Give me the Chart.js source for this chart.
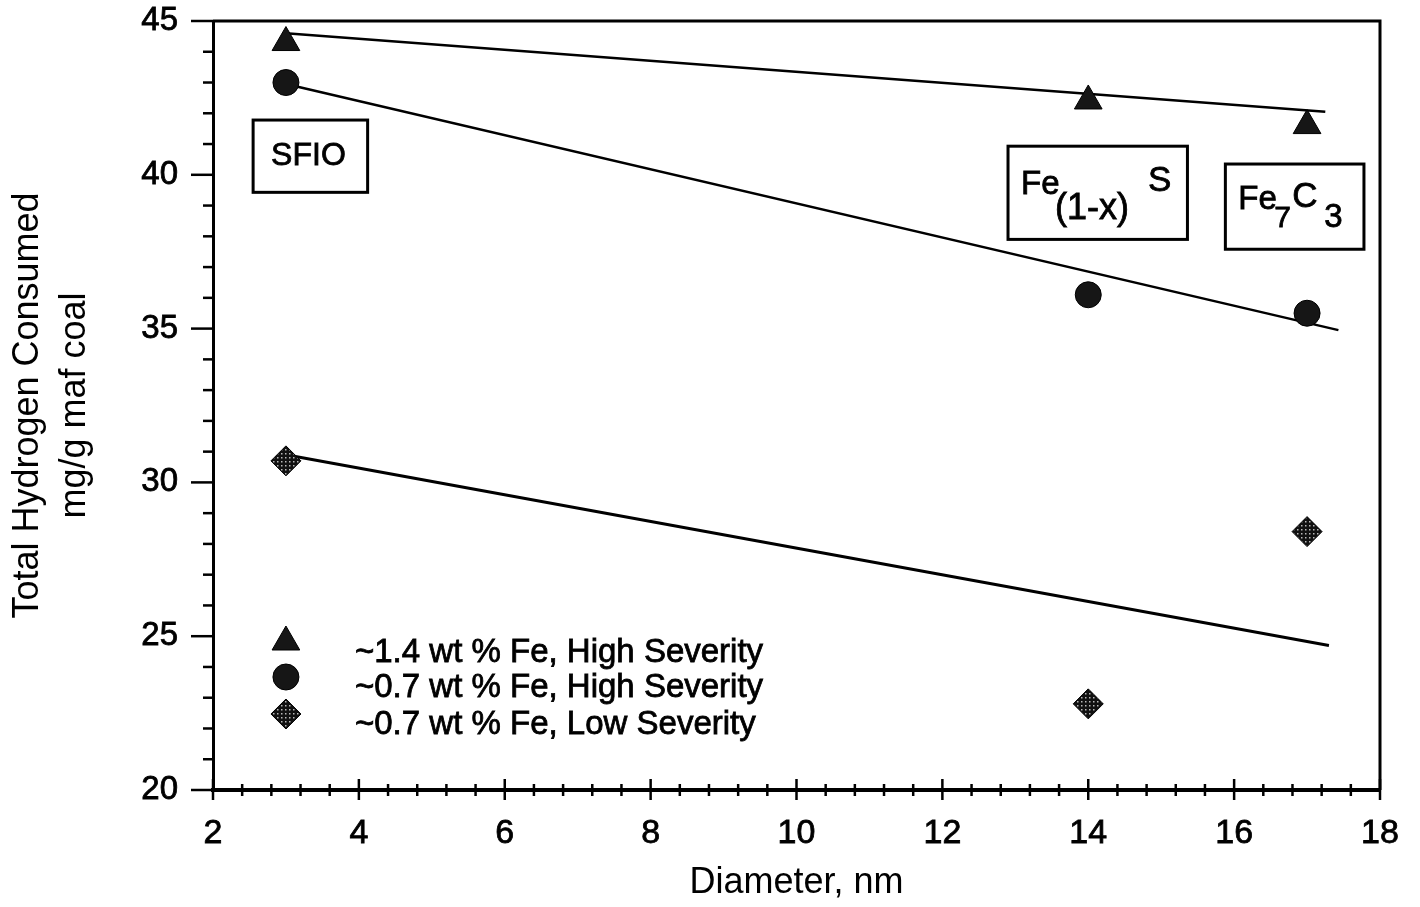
<!DOCTYPE html>
<html>
<head>
<meta charset="utf-8">
<script src="https://cdn.jsdelivr.net/npm/chart.js@4.4.1/dist/chart.umd.min.js"></script>
<style>
  html, body { margin: 0; padding: 0; background: #fff; }
  #wrap { width: 1420px; height: 907px; }
</style>
</head>
<body>
<div id="wrap"><canvas id="chart" width="1420" height="907"></canvas></div>
<script>
  // measured points
  const diameters = [3, 14, 17];
  const fe14High = [44.3, 42.4, 41.6];
  const fe07High = [43.0, 36.1, 35.5];
  const fe07Low = [30.7, 22.8, 28.4];

  // fitted lines, end points
  const fit14HighX = [3, 17.25];
  const fit14HighY = [44.6, 42.05];
  const fit07HighX = [3, 17.43];
  const fit07HighY = [42.95, 34.95];
  const fit07LowX = [3, 17.3];
  const fit07LowY = [30.9, 24.7];

  const seriesLabels = ['~1.4 wt % Fe, High Severity', '~0.7 wt % Fe, High Severity', '~0.7 wt % Fe, Low Severity'];
  const xTitle = 'Diameter, nm';
  const yTitle = ['Total Hydrogen Consumed', 'mg/g maf coal'];

  const FONT = "'Liberation Sans', Arial, sans-serif";

  function toPoints(xs, ys) {
    return xs.map((x, i) => ({ x, y: ys[i] }));
  }

  // black fill with a light dot grid, like the scanned symbols
  function dotPattern(step) {
    const c = document.createElement('canvas');
    c.width = step; c.height = step;
    const g = c.getContext('2d');
    g.fillStyle = '#111';
    g.fillRect(0, 0, step, step);
    g.fillStyle = '#b8b8b8';
    g.fillRect(1, 1, 1.5, 1.5);
    return g.createPattern(c, 'repeat');
  }
  const diamondFill = dotPattern(4);
  const solidFill = '#161616';

  const markerStyles = [
    { pointStyle: 'triangle', radius: 16, fill: solidFill },
    { pointStyle: 'circle', radius: 13, fill: solidFill },
    { pointStyle: 'rectRot', radius: 15, fill: diamondFill }
  ];

  // text boxes, corners in data units; pieces offset from the box's top-left in px
  const boxes = [
    { x1: 2.55, x2: 4.12, y1: 41.78, y2: 39.43,
      parts: [['SFIO', 32, 18, 45]] },
    { x1: 12.90, x2: 15.36, y1: 40.93, y2: 37.90,
      parts: [['Fe', 33, 13, 48], ['(1-x)', 36, 47, 73], ['S', 35, 140, 45]] },
    { x1: 15.88, x2: 17.78, y1: 40.35, y2: 37.58,
      parts: [['Fe', 33, 13, 45], ['7', 30, 49, 63], ['C', 35, 67, 43], ['3', 33, 99, 63]] }
  ];

  function heavyText(ctx, txt, px, py) {
    ctx.fillText(txt, px, py);
    ctx.strokeText(txt, px, py);
  }

  const decorations = {
    id: 'decorations',
    afterDatasetsDraw(chart) {
      const { ctx, chartArea: a, scales: { x, y } } = chart;
      ctx.save();
      ctx.strokeStyle = '#000';
      ctx.fillStyle = '#000';

      // frame on top and right
      ctx.lineWidth = 3;
      ctx.beginPath();
      ctx.moveTo(a.left, a.top);
      ctx.lineTo(a.right, a.top);
      ctx.lineTo(a.right, a.bottom);
      ctx.stroke();

      // y ticks: major every 5, minor every 1
      ctx.lineWidth = 2.5;
      for (let v = 20; v <= 45; v++) {
        const py = y.getPixelForValue(v);
        const len = v % 5 === 0 ? 22 : 10;
        ctx.beginPath();
        ctx.moveTo(a.left - len, py);
        ctx.lineTo(a.left, py);
        ctx.stroke();
      }
      // x ticks: major every 2, minor every 0.4, crossing the axis
      for (let i = 0; i <= 40; i++) {
        const v = 2 + i * 0.4;
        const px = x.getPixelForValue(v);
        const major = i % 5 === 0;
        ctx.beginPath();
        ctx.moveTo(px, a.bottom - (major ? 11 : 6));
        ctx.lineTo(px, a.bottom + (major ? 10 : 6));
        ctx.stroke();
      }

      // labelled boxes
      ctx.textBaseline = 'alphabetic';
      ctx.textAlign = 'left';
      boxes.forEach(b => {
        const l = x.getPixelForValue(b.x1), r = x.getPixelForValue(b.x2);
        const t = y.getPixelForValue(b.y1), bt = y.getPixelForValue(b.y2);
        ctx.lineWidth = 3;
        ctx.strokeRect(l, t, r - l, bt - t);
        ctx.lineWidth = 0.8;
        b.parts.forEach(([txt, size, dx, dy]) => {
          ctx.font = `${size}px ${FONT}`;
          heavyText(ctx, txt, l + dx, t + dy);
        });
      });

      // legend inside the plot
      const lx = x.getPixelForValue(3);
      const rows = [642, 677, 714];
      ctx.font = `33px ${FONT}`;
      seriesLabels.forEach((label, i) => {
        const m = markerStyles[i];
        ctx.fillStyle = m.fill;
        ctx.strokeStyle = '#000';
        ctx.lineWidth = 1;
        Chart.helpers.drawPoint(ctx, { pointStyle: m.pointStyle, radius: m.radius, rotation: 0, borderWidth: 1 }, lx, rows[i]);
        ctx.fillStyle = '#000';
        ctx.lineWidth = 0.8;
        heavyText(ctx, label, 355, rows[i] + 20);
      });
      ctx.restore();
    }
  };

  const markerSets = [fe14High, fe07High, fe07Low].map((vals, i) => ({
    label: seriesLabels[i],
    data: toPoints(diameters, vals),
    showLine: false,
    pointStyle: markerStyles[i].pointStyle,
    pointRadius: markerStyles[i].radius,
    pointBackgroundColor: markerStyles[i].fill,
    pointBorderColor: '#000',
    pointBorderWidth: 1,
    order: 0
  }));

  const fitSets = [
    toPoints(fit14HighX, fit14HighY),
    toPoints(fit07HighX, fit07HighY),
    toPoints(fit07LowX, fit07LowY)
  ].map((pts, i) => ({
    label: 'fit ' + (i + 1),
    data: pts,
    showLine: true,
    borderColor: '#000',
    borderWidth: i === 2 ? 3 : 2.5,
    pointRadius: 0,
    order: 1
  }));

  new Chart(document.getElementById('chart'), {
    type: 'scatter',
    data: { datasets: [...fitSets, ...markerSets] },
    options: {
      responsive: false,
      animation: false,
      layout: { padding: { left: 0, right: 40, top: 21, bottom: 0 } },
      plugins: {
        legend: { display: false },
        tooltip: { enabled: false }
      },
      scales: {
        x: {
          type: 'linear',
          min: 2,
          max: 18,
          ticks: { stepSize: 2, color: '#000', font: { family: FONT, size: 34 }, padding: 15, maxRotation: 0,
                   textStrokeColor: '#000', textStrokeWidth: 0.8 },
          grid: { display: false },
          border: { display: true, color: '#000', width: 4 },
          title: { display: true, text: xTitle, color: '#000', font: { family: FONT, size: 36 }, padding: { top: 0, bottom: 2 } },
          afterFit(s) { s.height = 117; s.paddingLeft = 0; s.paddingRight = 0; }
        },
        y: {
          min: 20,
          max: 45,
          ticks: { stepSize: 5, color: '#000', font: { family: FONT, size: 33 }, padding: 27,
                   textStrokeColor: '#000', textStrokeWidth: 0.8 },
          grid: { display: false },
          border: { display: true, color: '#000', width: 3 },
          title: { display: true, text: yTitle, color: '#000', font: { family: FONT, size: 36, lineHeight: 1.3 }, padding: { top: 5, bottom: 0 } },
          afterFit(s) { s.width = 213; s.paddingTop = 0; s.paddingBottom = 0; }
        }
      }
    },
    plugins: [decorations]
  });
</script>
</body>
</html>
